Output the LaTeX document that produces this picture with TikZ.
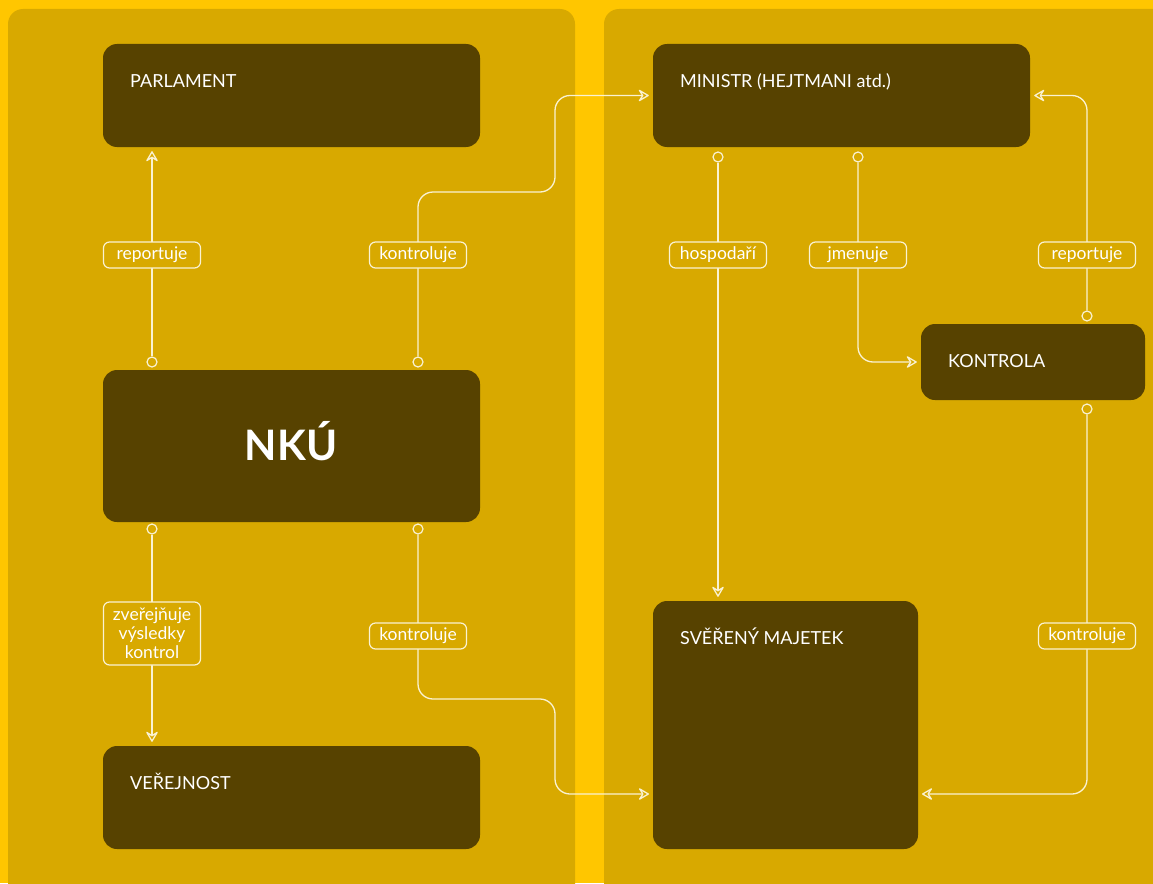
\documentclass[tikz,border=0pt]{standalone}
\usepackage{fontspec}
\setmainfont{Lato}
\usetikzlibrary{positioning}
\usetikzlibrary{arrows.meta}
\tikzset{>={Stealth[open,round,length=12pt,width=14pt,inset=4.5pt]}}
\definecolor{bgyellow}{RGB}{255,198,0}
\definecolor{panelc}{RGB}{216,169,0}
\definecolor{boxc}{RGB}{87,66,0}
\definecolor{linec}{RGB}{250,242,210}

\begin{document}
\begin{tikzpicture}[x=1pt, y=-1pt,
    box/.style={rectangle, rounded corners=14pt, fill=boxc, inner sep=0pt},
    title/.style={text=white, font=\fontsize{18}{20}\selectfont, anchor=base west, inner sep=0pt},
    lbl/.style={rectangle, rounded corners=6pt, draw=linec, fill=panelc, line width=1.2pt, text=white, font=\fontsize{17.5}{19}\selectfont, minimum width=97pt, minimum height=26pt, inner sep=1pt, align=center},
    dot/.style={circle, draw=linec, fill=panelc, line width=1.2pt, minimum size=10pt, inner sep=0pt},
    link/.style={draw=linec, line width=1.3pt, ->, rounded corners=15pt, shorten >=4pt} ]

    %Background
    \useasboundingbox (0,0) rectangle (1153,883);
    \clip (0,0) rectangle (1153,883);
    \fill[bgyellow] (0,0) rectangle (1153,883);
    \fill[panelc, rounded corners=15pt] (8,9) rectangle (575,910);
    \fill[panelc, rounded corners=15pt] (604,9) rectangle (1180,910);

    %Nodes
    \node[box, minimum width=377pt, minimum height=103pt] (parlament) at (291.5,95.5) {};
    \node[box, minimum width=377pt, minimum height=152pt] (nku) at (291.5,446) {};
    \node[box, minimum width=377pt, minimum height=103pt] (verejnost) at (291.5,797.5) {};
    \node[box, minimum width=377pt, minimum height=103pt] (ministr) at (841.5,95.5) {};
    \node[box, minimum width=224pt, minimum height=76pt] (kontrola) at (1033,362) {};
    \node[box, minimum width=265pt, minimum height=248pt] (majetek) at (785.5,725) {};

    \node[title] (parlament_t) at (130,87) {PARLAMENT};
    \node[text=white, font=\bfseries\fontsize{42}{44}\selectfont, anchor=base, inner sep=0pt] (nku_t) at (291,460) {NKÚ};
    \node[title] (verejnost_t) at (130,789) {VEŘEJNOST};
    \node[title] (ministr_t) at (680,87) {MINISTR (HEJTMANI atd.)};
    \node[title] (kontrola_t) at (948,367) {KONTROLA};
    \node[title] (majetek_t) at (680,644) {SVĚŘENÝ MAJETEK};

    \node[dot] (d_rep) at (152,362) {};
    \node[dot] (d_kon1) at (418,362) {};
    \node[dot] (d_zve) at (152,529) {};
    \node[dot] (d_kon2) at (418,529) {};
    \node[dot] (d_hos) at (718,157) {};
    \node[dot] (d_jme) at (858,157) {};
    \node[dot] (d_rep2) at (1087,316) {};
    \node[dot] (d_kon3) at (1087,409) {};

    \coordinate (b1) at (555,192);
    \coordinate (b2) at (555,699);
    \coordinate (e2) at (653,794);
    \coordinate (e3) at (918,794);

    %Lines
    \draw[link] (d_rep) -- (d_rep |- parlament.south);
    \draw[link] (d_kon1) |- (b1) |- (ministr.west);
    \draw[link] (d_zve) -- (d_zve |- verejnost.north);
    \draw[link] (d_kon2) |- (b2) |- (e2);
    \draw[link] (d_hos) -- (d_hos |- majetek.north);
    \draw[link] (d_jme) |- (kontrola.west);
    \draw[link] (d_rep2) |- (ministr.east);
    \draw[link] (d_kon3) |- (e3);

    %Labels
    \node[lbl] (l_rep) at (152,255) {reportuje};
    \node[lbl] (l_kon1) at (418,255) {kontroluje};
    \node[lbl, minimum height=63pt] (l_zve) at (152,633.5) {zveřejňuje\\výsledky\\kontrol};
    \node[lbl] (l_kon2) at (418,636) {kontroluje};
    \node[lbl] (l_hos) at (718,255) {hospodaří};
    \node[lbl] (l_jme) at (858,255) {jmenuje};
    \node[lbl] (l_rep2) at (1087,255) {reportuje};
    \node[lbl] (l_kon3) at (1087,636) {kontroluje};
\end{tikzpicture}
\end{document}
